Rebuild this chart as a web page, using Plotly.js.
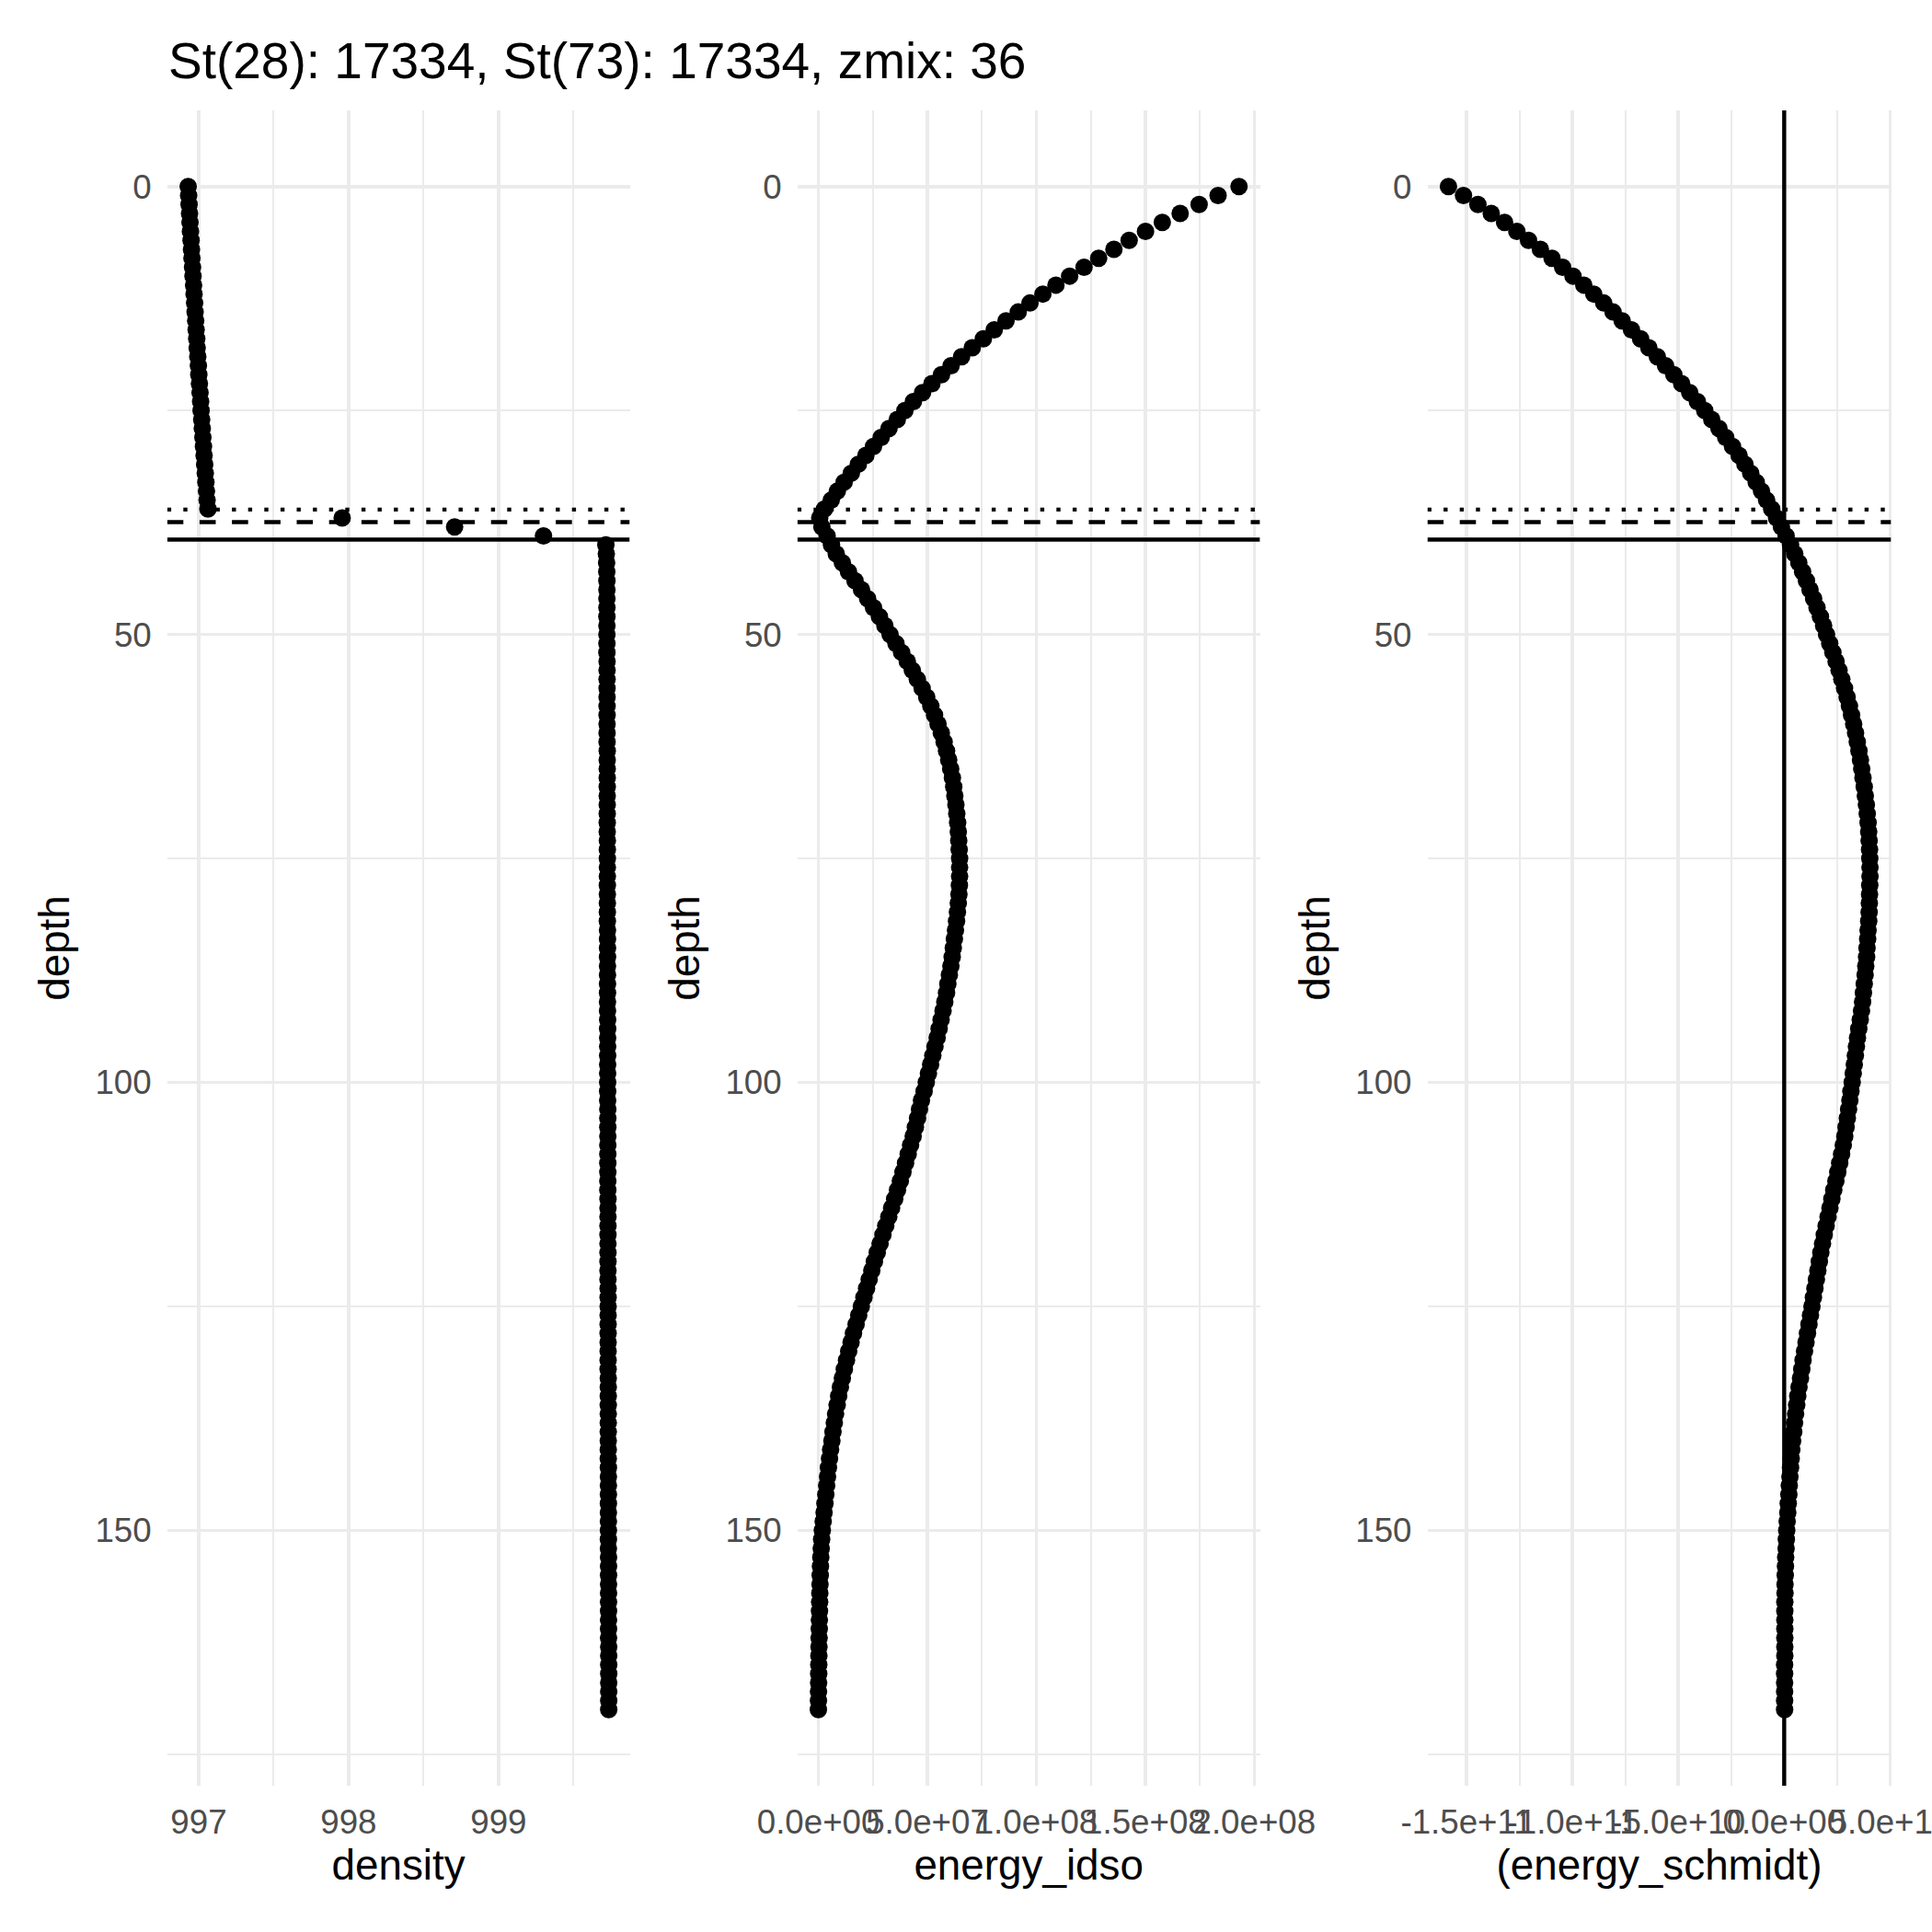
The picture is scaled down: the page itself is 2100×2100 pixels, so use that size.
<!DOCTYPE html>
<html>
<head>
<meta charset="utf-8">
<script src="https://cdn.plot.ly/plotly-3.0.1.min.js"></script>
<style>html,body{margin:0;padding:0;background:#fff;}#chart{width:2100px;height:2100px;}</style>
</head>
<body>
<div id="chart"></div>
<script>
// ---------------- data ----------------
const chartTitle = "St(28): 17334, St(73): 17334, zmix: 36";

const depth = [
  0,1,2,3,4,5,6,7,8,9,
  10,11,12,13,14,15,16,17,18,19,
  20,21,22,23,24,25,26,27,28,29,
  30,31,32,33,34,35,36,37,38,39,
  40,41,42,43,44,45,46,47,48,49,
  50,51,52,53,54,55,56,57,58,59,
  60,61,62,63,64,65,66,67,68,69,
  70,71,72,73,74,75,76,77,78,79,
  80,81,82,83,84,85,86,87,88,89,
  90,91,92,93,94,95,96,97,98,99,
  100,101,102,103,104,105,106,107,108,109,
  110,111,112,113,114,115,116,117,118,119,
  120,121,122,123,124,125,126,127,128,129,
  130,131,132,133,134,135,136,137,138,139,
  140,141,142,143,144,145,146,147,148,149,
  150,151,152,153,154,155,156,157,158,159,
  160,161,162,163,164,165,166,167,168,169,
  170
];

const density = [
  996.930,996.933,996.936,996.939,996.942,996.945,996.949,996.952,996.955,996.959,
  996.962,996.966,996.969,996.973,996.976,996.980,996.983,996.987,996.990,996.994,
  996.998,997.001,997.005,997.009,997.013,997.016,997.020,997.024,997.028,997.032,
  997.036,997.040,997.044,997.048,997.052,997.056,997.062,997.957,998.707,999.300,
  999.716,999.719,999.721,999.722,999.723,999.723,999.723,999.723,999.723,999.723,
  999.723,999.723,999.723,999.724,999.724,999.724,999.724,999.724,999.724,999.724,
  999.724,999.724,999.724,999.725,999.725,999.725,999.725,999.725,999.725,999.725,
  999.725,999.725,999.725,999.726,999.726,999.726,999.726,999.726,999.726,999.726,
  999.726,999.726,999.726,999.727,999.727,999.727,999.727,999.727,999.727,999.727,
  999.727,999.727,999.727,999.728,999.728,999.728,999.728,999.728,999.728,999.728,
  999.728,999.728,999.728,999.729,999.729,999.729,999.729,999.729,999.729,999.729,
  999.729,999.729,999.729,999.730,999.730,999.730,999.730,999.730,999.730,999.730,
  999.730,999.730,999.730,999.731,999.731,999.731,999.731,999.731,999.731,999.731,
  999.731,999.731,999.731,999.732,999.732,999.732,999.732,999.732,999.732,999.732,
  999.732,999.732,999.732,999.733,999.733,999.733,999.733,999.733,999.733,999.733,
  999.733,999.733,999.733,999.734,999.734,999.734,999.734,999.734,999.734,999.734,
  999.734,999.734,999.734,999.735,999.735,999.735,999.735,999.735,999.735,999.735,
  999.735
];

const energyIdso = [
  193.0e6,183.4e6,174.7e6,166.0e6,157.8e6,150.1e6,142.6e6,135.6e6,128.6e6,121.9e6,
  115.3e6,109.0e6,103.0e6,97.1e6,91.7e6,86.1e6,80.7e6,75.7e6,70.6e6,65.7e6,
  60.9e6,56.5e6,52.1e6,47.8e6,43.6e6,39.7e6,36.2e6,32.4e6,28.8e6,25.3e6,
  21.8e6,18.3e6,15.1e6,11.8e6,8.7e6,5.9e6,2.8e6,0.6e6,1.6e6,4.0e6,
  6.0e6,8.2e6,11.0e6,13.8e6,16.8e6,19.8e6,22.6e6,25.3e6,28.0e6,30.5e6,
  32.9e6,35.6e6,38.2e6,40.8e6,43.1e6,45.4e6,47.6e6,49.7e6,51.6e6,53.3e6,
  54.9e6,56.4e6,57.7e6,58.8e6,59.8e6,60.7e6,61.5e6,62.1e6,62.6e6,63.1e6,
  63.5e6,63.9e6,64.2e6,64.4e6,64.6e6,64.8e6,64.8e6,64.8e6,64.7e6,64.5e6,
  64.2e6,63.8e6,63.4e6,62.9e6,62.4e6,61.9e6,61.4e6,60.8e6,60.1e6,59.4e6,
  58.8e6,58.0e6,57.2e6,56.3e6,55.4e6,54.5e6,53.5e6,52.5e6,51.5e6,50.5e6,
  49.5e6,48.5e6,47.3e6,46.4e6,45.5e6,44.5e6,43.5e6,42.3e6,41.2e6,40.0e6,
  38.8e6,37.6e6,36.3e6,35.0e6,33.6e6,32.3e6,30.9e6,29.6e6,28.3e6,27.0e6,
  25.7e6,24.5e6,23.3e6,22.1e6,20.9e6,19.7e6,18.5e6,17.3e6,16.1e6,15.0e6,
  13.9e6,12.9e6,11.9e6,11.0e6,10.1e6,9.3e6,8.6e6,7.9e6,7.3e6,6.7e6,
  6.2e6,5.6e6,5.1e6,4.6e6,4.2e6,3.8e6,3.4e6,3.0e6,2.6e6,2.2e6,
  1.8e6,1.5e6,1.3e6,1.1e6,0.95e6,0.85e6,0.75e6,0.65e6,0.58e6,0.5e6,
  0.45e6,0.4e6,0.33e6,0.28e6,0.23e6,0.18e6,0.14e6,0.1e6,0.06e6,0.03e6,
  0.0
];

const energySchmidt = [
  -15.85e10,-15.14e10,-14.46e10,-13.83e10,-13.20e10,-12.62e10,-12.07e10,-11.51e10,-10.96e10,-10.46e10,
  -9.97e10,-9.46e10,-8.99e10,-8.52e10,-8.08e10,-7.65e10,-7.21e10,-6.78e10,-6.39e10,-5.99e10,
  -5.60e10,-5.21e10,-4.84e10,-4.46e10,-4.10e10,-3.75e10,-3.42e10,-3.08e10,-2.76e10,-2.44e10,
  -2.13e10,-1.85e10,-1.58e10,-1.32e10,-1.07e10,-0.83e10,-0.59e10,-0.36e10,-0.13e10,0.09e10,
  0.30e10,0.50e10,0.69e10,0.87e10,1.05e10,1.22e10,1.39e10,1.55e10,1.71e10,1.86e10,
  2.00e10,2.15e10,2.30e10,2.45e10,2.59e10,2.72e10,2.85e10,2.97e10,3.08e10,3.18e10,
  3.28e10,3.37e10,3.45e10,3.53e10,3.60e10,3.66e10,3.72e10,3.78e10,3.83e10,3.88e10,
  3.92e10,3.96e10,3.99e10,4.01e10,4.03e10,4.04e10,4.05e10,4.05e10,4.04e10,4.03e10,
  4.02e10,4.01e10,3.99e10,3.96e10,3.94e10,3.91e10,3.89e10,3.85e10,3.82e10,3.78e10,
  3.74e10,3.70e10,3.65e10,3.59e10,3.52e10,3.46e10,3.41e10,3.36e10,3.31e10,3.26e10,
  3.21e10,3.15e10,3.10e10,3.04e10,2.98e10,2.92e10,2.86e10,2.79e10,2.71e10,2.62e10,
  2.53e10,2.44e10,2.34e10,2.25e10,2.16e10,2.07e10,1.98e10,1.89e10,1.81e10,1.73e10,
  1.66e10,1.59e10,1.52e10,1.45e10,1.38e10,1.31e10,1.24e10,1.17e10,1.10e10,1.03e10,
  0.96e10,0.89e10,0.83e10,0.77e10,0.70e10,0.64e10,0.59e10,0.54e10,0.49e10,0.45e10,
  0.40e10,0.36e10,0.33e10,0.30e10,0.27e10,0.24e10,0.22e10,0.19e10,0.17e10,0.14e10,
  0.12e10,0.10e10,0.09e10,0.07e10,0.06e10,0.05e10,0.04e10,0.04e10,0.03e10,0.03e10,
  0.03e10,0.03e10,0.03e10,0.03e10,0.03e10,0.02e10,0.02e10,0.02e10,0.02e10,0.02e10,
  0.02e10
];

// reference depths (horizontal lines) and vertical zero line
const hlineDotted = 36.05;
const hlineDashed = 37.45;
const hlineSolid  = 39.4;
const vlineSchmidt = 0;

// axis ticks
const depthTicks = [0, 50, 100, 150];
const depthMinor = [25, 75, 125, 175];
const densityTicks = [997, 998, 999];
const densityTickText = ["997", "998", "999"];
const densityMinor = [996.5, 997.5, 998.5, 999.5];
const idsoTicks = [0, 5e7, 1e8, 1.5e8, 2e8];
const idsoTickText = ["0.0e+00", "5.0e+07", "1.0e+08", "1.5e+08", "2.0e+08"];
const idsoMinor = [-2.5e7, 2.5e7, 7.5e7, 1.25e8, 1.75e8];
const schmidtTicks = [-1.5e11, -1e11, -5e10, 0, 5e10];
const schmidtTickText = ["-1.5e+11", "-1.0e+11", "-5.0e+10", "0.0e+00", "5.0e+10"];
const schmidtMinor = [-1.75e11, -1.25e11, -7.5e10, -2.5e10, 2.5e10];

const xTitles = ["density", "energy_idso", "(energy_schmidt)"];
const yTitle = "depth";

// ---------------- helpers ----------------
function expandRange(vals, f) {
  const lo = Math.min(...vals), hi = Math.max(...vals);
  const pad = (hi - lo) * f;
  return [lo - pad, hi + pad];
}
const W = 2100, H = 2100;
const FONT = "Liberation Sans, Arial, Helvetica, sans-serif";
const GRID = "#EBEBEB";
const tickFont = {family: FONT, size: 36.7, color: "#4D4D4D"};
const titleFont = {family: FONT, size: 45.8, color: "#000000"};
const LW = 4.4;

const yTop = 120, yBottom = 1941;
const panelsPx = [[181.7, 684.5], [866.7, 1369.6], [1551.5, 2055.5]];
const yDomain = [1 - yBottom / H, 1 - yTop / H];

const dRange = expandRange(depth, 0.05);
const xData = [density, energyIdso, energySchmidt];
const xTicks = [densityTicks, idsoTicks, schmidtTicks];
const xTickText = [densityTickText, idsoTickText, schmidtTickText];
const xMinor = [densityMinor, idsoMinor, schmidtMinor];

const traces = [];
const layout = {
  width: W, height: H,
  margin: {l: 0, r: 0, t: 0, b: 0, pad: 0},
  paper_bgcolor: "#ffffff",
  plot_bgcolor: "rgba(0,0,0,0)",
  showlegend: false,
  font: {family: FONT, color: "#000000"},
  title: {
    text: chartTitle,
    font: {family: FONT, size: 55, color: "#000000"},
    xref: "container", yref: "container",
    x: 183 / W, xanchor: "left",
    y: 1 - 66 / H, yanchor: "middle"
  }
};

function refLine(xa, ya, xs, ys, dash) {
  return {
    type: "scatter", mode: "lines", x: xs, y: ys, xaxis: xa, yaxis: ya,
    line: {color: "#000000", width: LW, dash: dash || "solid"},
    hoverinfo: "skip", cliponaxis: true
  };
}

for (let i = 0; i < 3; i++) {
  const sx = i === 0 ? "" : String(i + 1);
  const xa = "x" + sx, ya = "y" + sx;
  const xr = expandRange(xData[i], 0.05);

  // reference lines first so the points sit on top of them
  traces.push(refLine(xa, ya, xr, [hlineDotted, hlineDotted], "4.4px,13.2px"));
  traces.push(refLine(xa, ya, xr, [hlineDashed, hlineDashed], "17.6px,17.6px"));
  traces.push(refLine(xa, ya, xr, [hlineSolid, hlineSolid]));
  if (i === 2) {
    traces.push(refLine(xa, ya, [vlineSchmidt, vlineSchmidt], dRange));
  }

  traces.push({
    type: "scatter", mode: "markers",
    x: xData[i], y: depth,
    xaxis: xa, yaxis: ya,
    marker: {color: "#000000", size: 19, line: {width: 0}},
    hoverinfo: "x+y"
  });

  layout["xaxis" + sx] = {
    domain: [panelsPx[i][0] / W, panelsPx[i][1] / W],
    anchor: ya,
    range: xr,
    tickmode: "array", tickvals: xTicks[i], ticktext: xTickText[i],
    tickfont: tickFont, tickangle: 0,
    ticklabeloverflow: "allow",
    ticks: "", showline: false, zeroline: false,
    showgrid: true, gridcolor: GRID, gridwidth: 3.5,
    minor: {tickmode: "array", tickvals: xMinor[i], showgrid: true, gridcolor: GRID, gridwidth: 2, ticks: ""},
    ticklabelstandoff: 14,
    title: {text: xTitles[i], font: titleFont, standoff: 11},
    automargin: false
  };
  layout["yaxis" + sx] = {
    domain: yDomain,
    anchor: xa,
    range: [dRange[1], dRange[0]],
    tickmode: "array", tickvals: depthTicks,
    tickfont: tickFont,
    ticklabeloverflow: "allow",
    ticks: "", showline: false, zeroline: false,
    showgrid: true, gridcolor: GRID, gridwidth: 3.5,
    minor: {tickmode: "array", tickvals: depthMinor, showgrid: true, gridcolor: GRID, gridwidth: 2, ticks: ""},
    ticklabelstandoff: 16,
    title: {text: yTitle, font: titleFont, standoff: 13},
    automargin: false
  };
}

Plotly.newPlot("chart", traces, layout, {staticPlot: true, displayModeBar: false});
</script>
</body>
</html>
